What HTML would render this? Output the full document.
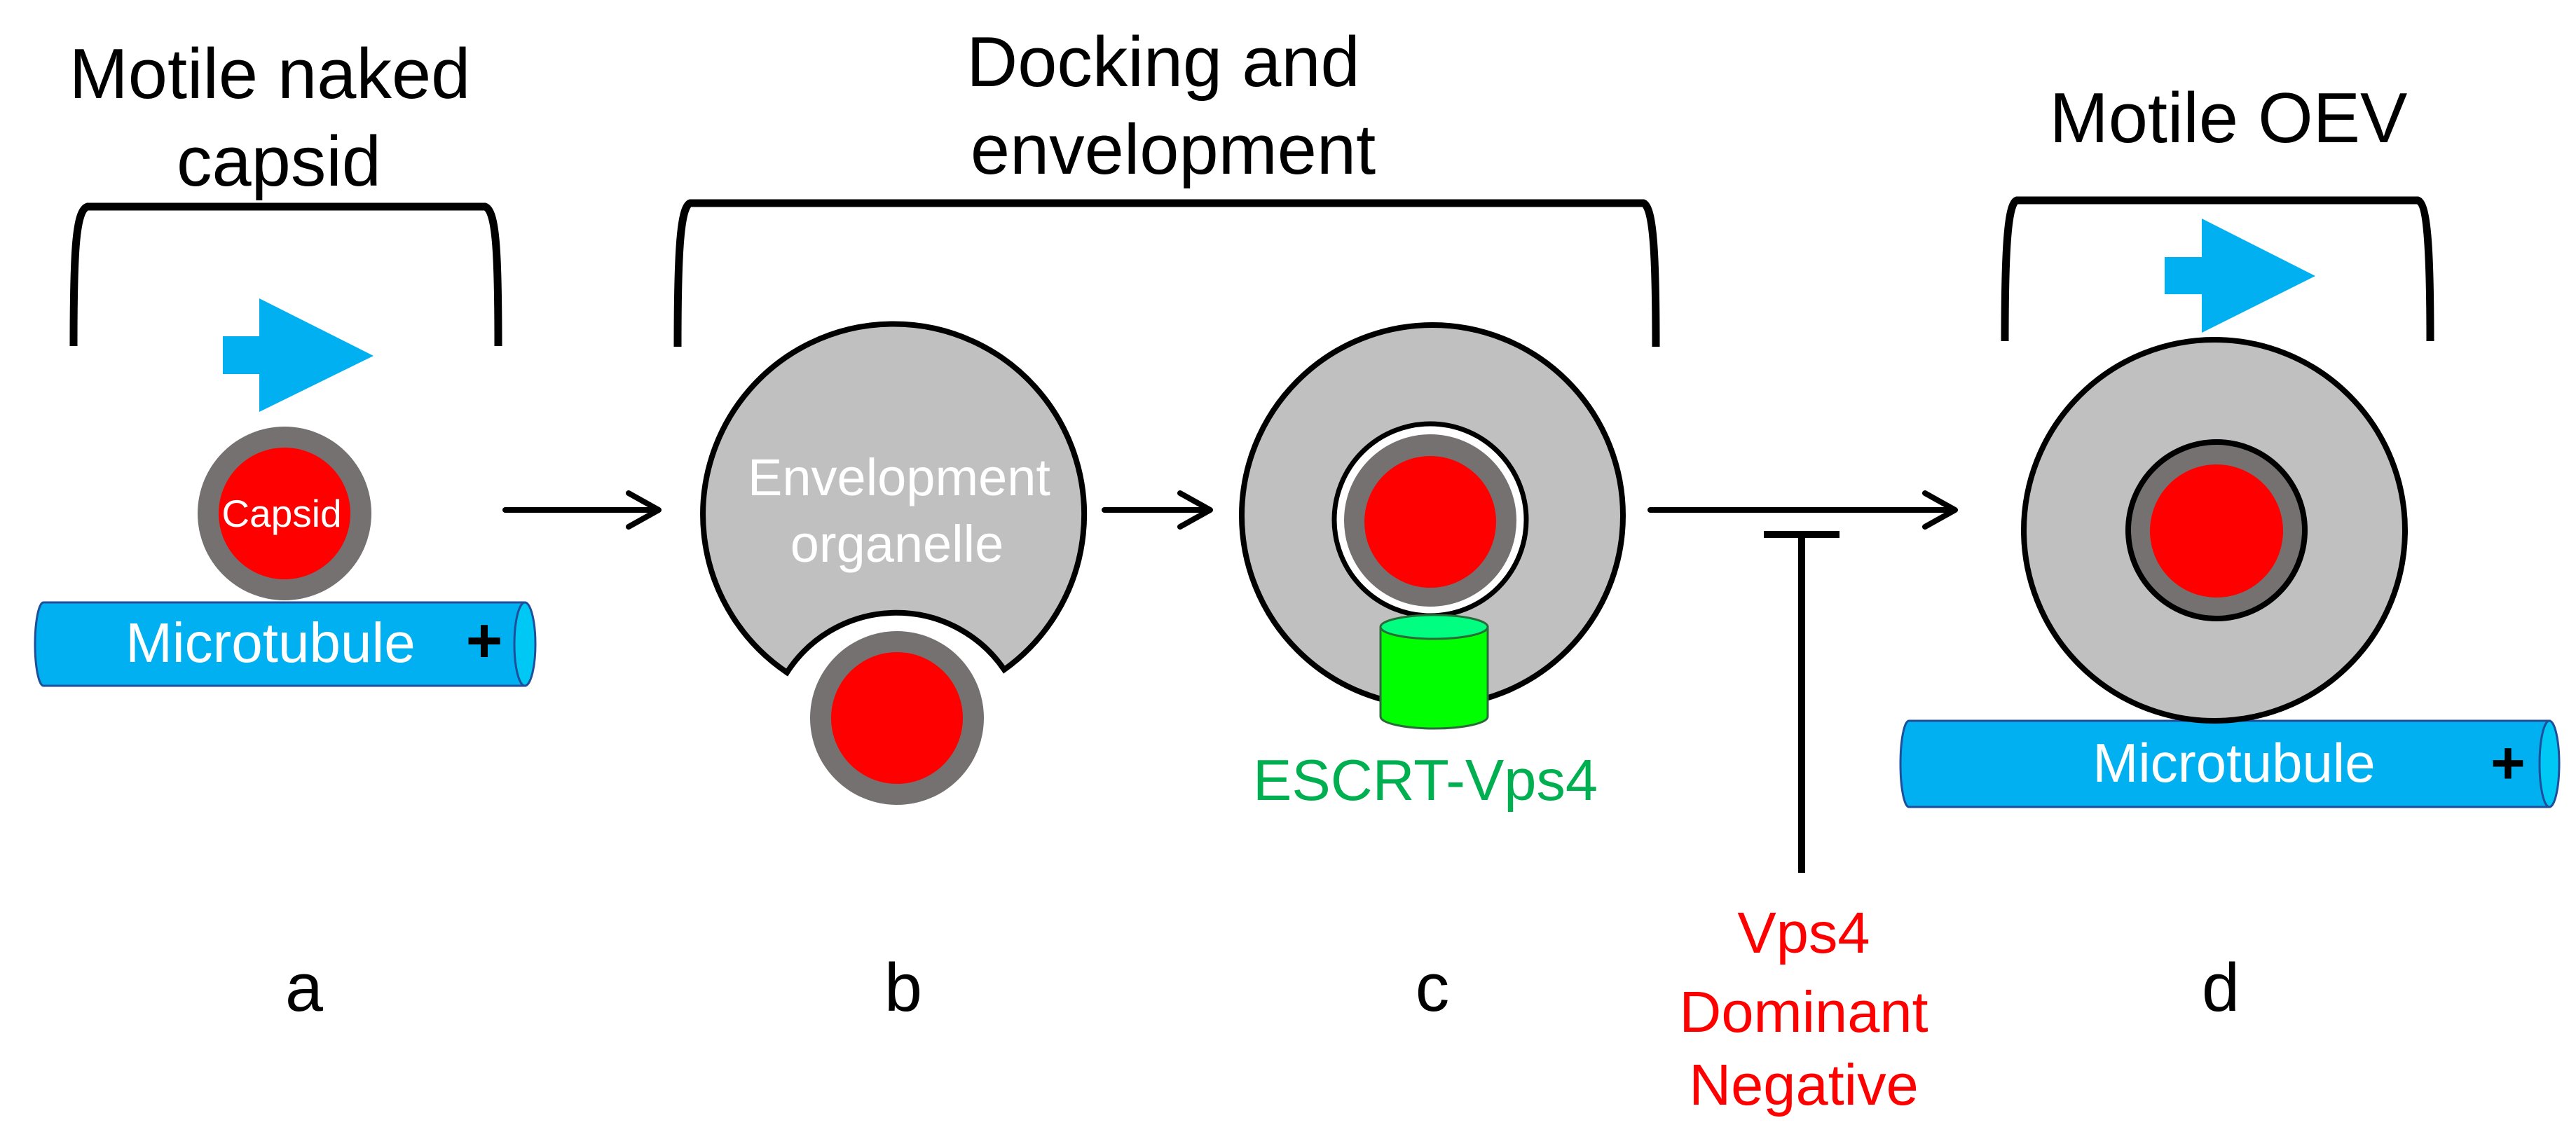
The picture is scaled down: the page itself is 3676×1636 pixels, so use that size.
<!DOCTYPE html>
<html><head><meta charset="utf-8"><style>html,body{margin:0;padding:0;background:#fff}svg{display:block}</style></head>
<body>
<svg width="3676" height="1636" viewBox="0 0 3676 1636" xmlns="http://www.w3.org/2000/svg" font-family="Liberation Sans, Arial, sans-serif">
<rect width="3676" height="1636" fill="#fff"/>
<!-- titles -->
<g font-size="101" fill="#000" text-anchor="middle">
<text x="385" y="140">Motile naked</text>
<text x="398" y="265">capsid</text>
<text x="1660" y="123">Docking and</text>
<text x="1674" y="248">envelopment</text>
<text x="3180" y="203">Motile OEV</text>
</g>
<!-- brackets -->
<g fill="none" stroke="#000" stroke-width="11">
<path d="M105 494 C105 360 108 300 125 295 L692 295 C708 300 711 360 711 494"/>
<path d="M967 495 C967 370 970 295 985 290 L2345 290 C2360 295 2363 370 2363 495"/>
<path d="M2861 487 C2861 370 2864 290 2878 286 L3450 286 C3465 290 3468 370 3468 487"/>
</g>
<!-- blue motion arrows -->
<polygon points="318,480 370,480 370,426 533,508 370,588 370,534 318,534" fill="#00b0f0"/>
<polygon points="3089,367 3142,367 3142,312 3304,394 3142,475 3142,420 3089,420" fill="#00b0f0"/>
<!-- microtubule a -->
<path d="M62 860 L749 860 L749 979 L62 979 A12 59.5 0 0 1 62 860 Z" fill="#00b0f0" stroke="#1f4e9a" stroke-width="3"/>
<ellipse cx="749" cy="919.5" rx="15" ry="59.5" fill="#00c8f5" stroke="#1f4e9a" stroke-width="3"/>
<text x="386" y="945" font-size="80" fill="#fff" text-anchor="middle">Microtubule</text>
<text x="691" y="945" font-size="90" fill="#000" text-anchor="middle" font-weight="bold">+</text>
<!-- capsid a -->
<circle cx="406" cy="733" r="124" fill="#767171"/>
<circle cx="406" cy="733" r="94" fill="#ff0000"/>
<text x="402" y="752" font-size="55" fill="#fff" text-anchor="middle">Capsid</text>
<!-- arrows -->
<g fill="none" stroke="#000" stroke-width="8" stroke-linecap="round" stroke-linejoin="round">
<path d="M721 728 L938 728 M897 704 L940 728 L897 752"/>
<path d="M1576 728 L1725 728 M1684 704 L1727 728 L1684 752"/>
<path d="M2355 728 L2788 728 M2747 704 L2790 728 L2747 752"/>
</g>
<path d="M2517 763 L2625 763 M2571 763 L2571 1246" stroke="#000" stroke-width="10" fill="none"/>
<!-- organelle b -->
<path d="M1123 960 A272 272 0 1 1 1433 956 A186 186 0 0 0 1123 960 Z" fill="#c0c0c0" stroke="#000" stroke-width="8" stroke-linejoin="miter"/>
<text x="1283" y="707" font-size="74" fill="#fff" text-anchor="middle">Envelopment</text>
<text x="1280" y="802" font-size="74" fill="#fff" text-anchor="middle">organelle</text>
<circle cx="1280" cy="1025" r="124" fill="#767171"/>
<circle cx="1280" cy="1025" r="94" fill="#ff0000"/>
<!-- c -->
<circle cx="2044" cy="736" r="272" fill="#c0c0c0" stroke="#000" stroke-width="8"/>
<circle cx="2041" cy="742" r="137" fill="#fff" stroke="#000" stroke-width="7"/>
<circle cx="2041" cy="743" r="123" fill="#767171"/>
<circle cx="2041" cy="745" r="94" fill="#ff0000"/>
<path d="M1970 895 L1970 1023 A76.5 17 0 0 0 2123 1023 L2123 895 Z" fill="#00ff00" stroke="#2b6b3a" stroke-width="3"/>
<ellipse cx="2046.5" cy="895" rx="76.5" ry="17" fill="#00ff80" stroke="#2b6b3a" stroke-width="3"/>
<text x="2034" y="1142" font-size="83" fill="#00b050" text-anchor="middle">ESCRT-Vps4</text>
<!-- d -->
<path d="M2724 1029 L3638 1029 L3638 1152 L2724 1152 A12 61.5 0 0 1 2724 1029 Z" fill="#00b0f0" stroke="#1f4e9a" stroke-width="3"/>
<ellipse cx="3638" cy="1090.5" rx="14" ry="61.5" fill="#00c8f5" stroke="#1f4e9a" stroke-width="3"/>
<text x="3188" y="1116" font-size="78" fill="#fff" text-anchor="middle">Microtubule</text>
<text x="3579" y="1118" font-size="85" fill="#000" text-anchor="middle" font-weight="bold">+</text>
<circle cx="3160" cy="757" r="272" fill="#c0c0c0" stroke="#000" stroke-width="8"/>
<circle cx="3163" cy="757" r="126" fill="#767171" stroke="#000" stroke-width="8"/>
<circle cx="3163" cy="758" r="95" fill="#ff0000"/>
<!-- Vps4 DN -->
<g font-size="83" fill="#ff0000" text-anchor="middle">
<text x="2574" y="1360">Vps4</text>
<text x="2574" y="1473">Dominant</text>
<text x="2574" y="1577">Negative</text>
</g>
<!-- letters -->
<g font-size="97" fill="#000" text-anchor="middle">
<text x="434" y="1443">a</text>
<text x="1289" y="1443">b</text>
<text x="2044" y="1443">c</text>
<text x="3169" y="1443">d</text>
</g>
</svg>
</body></html>
